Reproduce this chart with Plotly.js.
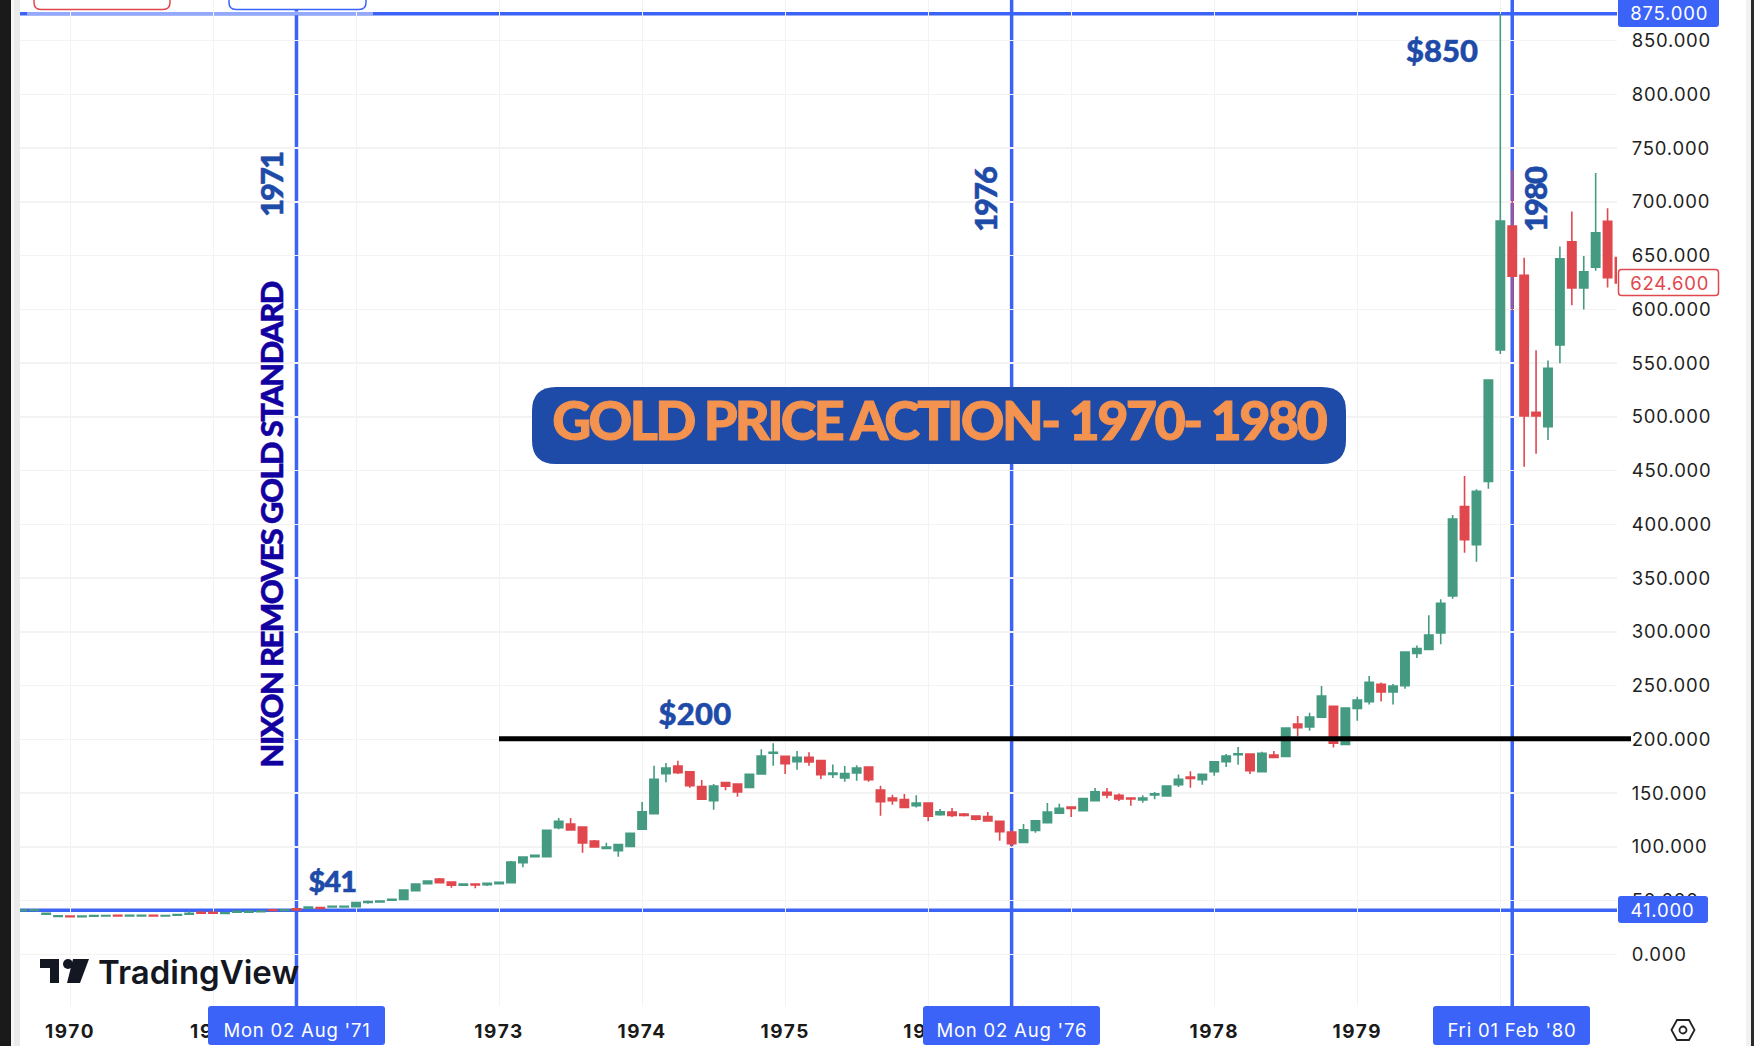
<!DOCTYPE html>
<html>
<head>
<meta charset="utf-8">
<title>Gold price action 1970-1980</title>
<script src="https://cdn.plot.ly/plotly-3.0.1.min.js"></script>
<style>
  html, body { margin: 0; padding: 0; background: #fff; overflow: hidden; }
  #chart { width: 1754px; height: 1046px; }
  #chart .ytick text { letter-spacing: 0.8px; }
  #chart .xtick text { letter-spacing: 1.6px; }
</style>
</head>
<body>
<div id="chart"></div>
<script>
// Monthly candles, x is the bar number counted from Jan 1970 (TradingView spaces months evenly)
const firstBar = -4;
const opens = [40.6,40.8,37.3,35.2,35.6,35.0,35.5,35.6,36.2,35.7,35.7,36.2,35.6,36.3,37.4,39.0,39.0,38.0,39.2,39.2,39.6,41.4,40.8,42.3,43.0,43.4,44.0,44.0,44.3,48.3,48.7,50.3,51.1,59.2,65.7,70.0,67.2,64.2,65.4,64.8,65.7,66.6,85.3,90.8,90.8,117.8,121.2,118.4,105.4,98.6,96.4,100.4,116.3,130.8,168.1,175.2,169.9,156.0,142.9,159.7,158.4,155.3,167.7,187.0,184.2,179.2,183.3,180.2,167.4,164.0,168.7,174.3,152.9,145.4,143.9,138.3,140.8,129.9,132.4,130.5,128.7,128.1,123.7,113.8,104.1,115.3,122.4,131.4,137.0,133.6,142.9,150.7,147.9,145.4,143.5,148.2,147.3,157.8,164.9,162.5,169.9,179.2,185.7,186.3,169.9,185.4,184.2,214.2,211.5,220.5,230.7,195.3,228.8,235.0,251.2,244.0,249.9,280.0,283.7,298.9,333.4,416.5,381.1,440.0,562.2,677.6,631.7,504.2,490.9,567.0,663.0,620.0,639.4,682.0,648.2];
const highs = [41.8,41.6,38.3,36.0,35.8,35.6,36.2,36.3,36.4,36.4,36.4,36.4,36.2,37.0,40.0,39.2,39.2,38.8,40.1,40.1,40.4,41.6,41.7,42.6,44.1,43.6,44.9,44.9,49.0,50.0,49.8,51.4,60.0,65.6,68.4,71.0,67.4,66.0,65.6,66.2,67.1,86.8,90.7,92.3,115.5,126.8,126.8,118.6,106.3,103.9,102.6,112.7,141.7,175.5,178.0,180.2,170.1,162.2,158.4,159.9,158.6,167.6,190.7,196.3,184.4,189.1,187.9,180.4,176.7,175.2,175.8,174.5,156.9,148.5,149.1,147.9,141.0,135.2,136.1,131.5,128.9,132.4,123.9,115.3,121.2,124.5,140.7,140.1,137.2,145.0,154.7,154.7,149.7,145.6,147.9,151.0,156.8,167.4,170.2,167.6,179.4,186.3,192.9,186.5,188.5,189.1,210.7,221.7,224.8,249.6,230.9,229.3,239.7,258.9,253.0,251.5,281.9,287.4,315.4,330.3,408.7,445.0,432.6,535.0,875.0,729.7,648.0,562.0,552.4,658.5,691.2,649.7,727.0,694.2,648.4];
const lows = [40.4,40.6,37.1,35.0,34.8,34.8,35.3,35.4,35.5,35.5,35.5,35.5,35.4,36.1,37.2,38.1,38.1,37.8,39.0,39.0,39.4,40.6,40.6,41.0,42.8,42.5,43.8,43.8,44.1,47.0,48.5,50.1,50.9,59.0,65.5,66.4,62.0,64.0,61.4,63.5,65.5,66.4,80.9,90.6,90.6,116.3,115.0,94.6,99.6,98.2,90.8,100.2,116.1,130.6,160.0,167.7,155.0,144.0,134.6,152.6,146.7,155.1,167.5,175.5,167.7,171.8,175.5,163.1,164.0,160.6,161.5,160.6,129.0,139.2,136.5,136.7,123.7,129.0,127.7,128.1,124.6,123.8,105.7,100.1,103.9,113.1,122.2,131.2,127.7,133.4,142.7,145.1,142.6,138.3,141.0,144.2,147.1,155.6,155.0,157.8,166.2,174.2,176.4,167.7,169.7,182.5,184.0,203.1,208.0,220.3,192.5,195.1,217.3,232.5,235.3,232.5,247.1,275.7,283.1,288.4,330.9,373.7,365.3,433.2,558.5,599.0,453.7,465.8,478.5,550.0,604.0,600.0,636.0,620.5,622.0];
const closes = [41.2,41.4,38.1,35.8,35.0,35.5,36.0,36.1,35.7,36.2,36.2,35.7,36.0,36.9,38.1,38.3,38.3,38.6,39.9,39.9,40.2,40.8,41.5,41.2,43.9,42.7,44.7,44.7,48.2,49.1,49.5,51.1,59.8,65.4,68.2,66.6,64.2,65.4,64.5,66.0,66.9,85.9,90.5,92.1,115.3,123.7,115.6,103.5,99.8,99.8,102.0,112.5,132.7,162.8,173.3,169.0,156.9,144.2,156.6,156.3,151.0,167.4,184.5,187.9,177.4,183.3,178.9,167.1,168.7,168.1,173.3,162.5,142.0,142.9,136.7,140.8,128.4,132.7,129.3,129.3,125.6,124.0,114.1,102.9,115.9,124.3,132.4,135.8,135.8,144.8,151.3,148.2,144.5,144.5,145.4,149.4,156.6,162.8,163.7,167.4,179.2,184.5,186.6,170.8,187.0,183.2,210.5,210.8,220.8,240.3,196.3,229.1,236.6,253.0,244.0,249.6,281.3,284.4,297.1,326.5,405.0,385.8,430.7,534.3,682.3,631.0,500.9,500.9,545.2,647.0,620.0,635.0,671.4,629.5,624.6];

const bars = opens.map((_, i) => firstBar + i);

const yearLabels = ['1970','1971','1972','1973','1974','1975','1976','1977','1978','1979','1980'];
const yearBars = [0,12,24,36,48,60,72,84,96,108,120];
const priceTicks = [0,50,100,150,200,250,300,350,400,450,500,550,600,650,700,750,800,850];

// crosshair levels and their bars
const crossBars = [19, 79, 121];
const crossPrices = [875, 41];
const resistance = 200.5;

const BLUE = '#3b63f7';
const NAVY = '#1e4aa8';
const GREEN = '#459b82';
const RED = '#e0484e';

// plot box in page pixels, helpers turn pixels into paper fractions
const W = 1754, H = 1046;
const L = 20, R = 1617, T = 0, B = 1006;
const px = x => (x - L) / (R - L);
const py = y => (B - y) / (B - T);

function rect(x0, y0, x1, y1, color) {
  return { type: 'rect', xref: 'paper', yref: 'paper', x0: px(x0), x1: px(x1), y0: py(y0), y1: py(y1),
    fillcolor: color, line: { width: 0 }, layer: 'above' };
}

function roundRect(x0, y0, x1, y1, r, fill, stroke) {
  const p = (x, y) => px(x) + ',' + py(y);
  const path = 'M' + p(x0 + r, y0) + ' L' + p(x1 - r, y0) + ' Q' + p(x1, y0) + ' ' + p(x1, y0 + r) +
    ' L' + p(x1, y1 - r) + ' Q' + p(x1, y1) + ' ' + p(x1 - r, y1) +
    ' L' + p(x0 + r, y1) + ' Q' + p(x0, y1) + ' ' + p(x0, y1 - r) +
    ' L' + p(x0, y0 + r) + ' Q' + p(x0, y0) + ' ' + p(x0 + r, y0) + ' Z';
  return { type: 'path', xref: 'paper', yref: 'paper', path: path, fillcolor: fill,
    line: { color: stroke || fill, width: stroke ? 1.5 : 0 }, layer: 'above' };
}

function poly(points, fill, stroke) {
  const path = points.map((q, i) => (i ? 'L' : 'M') + px(q[0]) + ',' + py(q[1])).join(' ') + ' Z';
  return { type: 'path', xref: 'paper', yref: 'paper', path: path, fillcolor: fill || 'rgba(0,0,0,0)',
    line: { color: stroke || fill, width: stroke ? 1.8 : 0 }, layer: 'above' };
}

function circle(cx, cy, r, fill, stroke) {
  return { type: 'circle', xref: 'paper', yref: 'paper', x0: px(cx - r), x1: px(cx + r), y0: py(cy + r), y1: py(cy - r),
    fillcolor: fill || 'rgba(0,0,0,0)', line: { color: stroke || fill, width: stroke ? 1.8 : 0 }, layer: 'above' };
}

function label(x, y, text, size, color, opts) {
  return Object.assign({ xref: 'paper', yref: 'paper', x: px(x), y: py(y), text: text, showarrow: false,
    xanchor: 'center', yanchor: 'middle', borderpad: 0,
    font: { family: 'Lato, sans-serif', size: size, color: color, weight: 900 } }, opts || {});
}

function axisLabel(x, y, text, color) {
  return label(x, y, text, 19, color, { xanchor: 'left', font: { family: 'Inter, sans-serif', size: 18.5, color: color } });
}

function dateLabel(x, y, text) {
  return label(x, y, text, 19, '#ffffff', { font: { family: 'Inter, sans-serif', size: 18.5, color: '#ffffff' } });
}

const candles = {
  type: 'candlestick', x: bars, open: opens, high: highs, low: lows, close: closes,
  increasing: { line: { color: GREEN, width: 1.6 }, fillcolor: GREEN },
  decreasing: { line: { color: RED, width: 1.6 }, fillcolor: RED },
  whiskerwidth: 0, hoverinfo: 'skip', showlegend: false
};

const shapes = [];

// crosshair lines go under the candles
crossBars.forEach(b => shapes.push({ type: 'line', xref: 'x', yref: 'paper', x0: b, x1: b, y0: 0, y1: 1,
  line: { color: BLUE, width: 3.5 }, layer: 'below' }));
crossPrices.forEach(p => shapes.push({ type: 'line', xref: 'paper', yref: 'y', x0: 0, x1: 1, y0: p, y1: p,
  line: { color: BLUE, width: 3.5 }, layer: 'below' }));

// $200 line runs a little past the plot into the axis
shapes.push({ type: 'line', xref: 'paper', yref: 'y', x0: px(499), x1: px(1631), y0: resistance, y1: resistance,
  line: { color: '#000000', width: 5 }, layer: 'above' });

// window frame of the screenshot
shapes.push(rect(0, 0, 11, H, '#1a1a1a'), rect(11, 0, 14, H, '#f6f6f6'), rect(14, 0, 20, H, '#ebebeb'));
shapes.push(rect(1746, 0, 1751, H, '#f2f2f2'), rect(1751, 0, 1754, H, '#2a2a2a'));

// buy and sell pills cut off by the top edge
shapes.push(rect(27, 11.2, 373, 15.2, 'rgba(255,255,255,0.45)'));
shapes.push(roundRect(34, -20, 170, 9.5, 7, '#ffffff', RED));
shapes.push(roundRect(229, -20, 366, 9.5, 7, '#ffffff', BLUE));

// title plate
shapes.push(roundRect(532, 387, 1346, 464, 24, NAVY));

// axis flags
shapes.push(roundRect(1618, -6, 1719, 27, 3, BLUE));
shapes.push(roundRect(1618, 896, 1708, 923, 3, BLUE));
shapes.push(roundRect(1618.5, 269.5, 1718.5, 295.5, 3, '#ffffff', RED));
shapes.push(roundRect(208, 1006, 385, 1045, 3, BLUE));
shapes.push(roundRect(923, 1006, 1100, 1045, 3, BLUE));
shapes.push(roundRect(1433, 1006, 1590, 1045, 3, BLUE));

// TradingView mark
shapes.push(poly([[40, 959], [59, 959], [59, 983], [50, 983], [50, 968], [40, 968]], '#131722'));
shapes.push(circle(68, 964, 5, '#131722'));
shapes.push(poly([[73, 959], [89, 959], [80, 983], [67, 983]], '#131722'));

// settings hexagon
shapes.push(poly([[1671.5, 1030], [1677, 1020], [1689, 1020], [1694.5, 1030], [1689, 1040], [1677, 1040]], null, '#222222'));
shapes.push(circle(1683, 1030, 3.5, null, '#222222'));

const annotations = [
  label(938.5, 419, 'GOLD PRICE ACTION- 1970- 1980', 54, '#f4934f'),
  label(271, 185, '1971', 31, NAVY, { textangle: -90 }),
  label(271, 525, 'NIXON REMOVES GOLD STANDARD', 31, '#1200a0', { textangle: -90 }),
  label(985, 200, '1976', 31, NAVY, { textangle: -90 }),
  label(1535, 200, '1980', 31, NAVY, { textangle: -90 }),
  label(1442, 50, '$850', 31, NAVY),
  label(332, 880, '$41', 29, NAVY),
  label(695, 713, '$200', 31, NAVY),
  label(198.5, 972, 'TradingView', 33, '#131722', { font: { family: 'Inter, sans-serif', size: 33, color: '#131722', weight: 600 } }),
  axisLabel(1632, 13.5, '875.000', '#ffffff'),
  axisLabel(1632, 910, '41.000', '#ffffff'),
  axisLabel(1632, 283, '624.600', RED),
  dateLabel(296.5, 1030, "Mon 02 Aug '71"),
  dateLabel(1011.5, 1030, "Mon 02 Aug '76"),
  dateLabel(1511.5, 1030, "Fri 01 Feb '80")
];

// letter spacing and extra weight per annotation, same order as above
const spacing = [-2.7, -2, -1.6, -2, -2, 0, -1, 0.3, 0, 0.8, 0.8, 0.8, 0.8, 0.8, 0.8];
const thicken = [1, 0.5, 0.5, 0.5, 0.5, 0.5, 0.5, 0.5, 0, 0, 0, 0, 0, 0, 0];

const layout = {
  width: W, height: H,
  margin: { l: L, r: W - R, t: T, b: H - B, pad: 0 },
  paper_bgcolor: '#ffffff', plot_bgcolor: '#ffffff',
  showlegend: false,
  boxgap: 0.3, boxgroupgap: 0,
  xaxis: {
    type: 'linear', range: [-4.195, 129.79], rangeslider: { visible: false },
    tickmode: 'array', tickvals: yearBars, ticktext: yearLabels,
    ticks: 'outside', ticklen: 8, tickcolor: 'rgba(0,0,0,0)',
    tickfont: { family: 'Inter, sans-serif', size: 19, color: '#1a1a1a', weight: 700 },
    showgrid: true, gridcolor: '#f3f3f3', gridwidth: 1, zeroline: false, showline: false, fixedrange: true
  },
  yaxis: {
    side: 'right', range: [-48.1, 887.9],
    tickmode: 'array', tickvals: priceTicks, ticktext: priceTicks.map(v => v.toFixed(3)),
    ticks: 'outside', ticklen: 10, tickcolor: 'rgba(0,0,0,0)',
    tickfont: { family: 'Inter, sans-serif', size: 18.5, color: '#1f1f1f' },
    showgrid: true, gridcolor: '#f3f3f3', gridwidth: 1.5, zeroline: false, showline: false, fixedrange: true
  },
  shapes: shapes,
  annotations: annotations
};

Plotly.newPlot('chart', [candles], layout, { displayModeBar: false, staticPlot: true }).then(gd => {
  gd.querySelectorAll('.annotation').forEach(a => {
    const i = +a.getAttribute('data-index');
    const t = a.querySelector('.annotation-text');
    if (spacing[i]) t.style.letterSpacing = spacing[i] + 'px';
    if (thicken[i]) { t.style.stroke = annotations[i].font.color; t.style.strokeWidth = thicken[i] + 'px'; }
  });
});
</script>
</body>
</html>
